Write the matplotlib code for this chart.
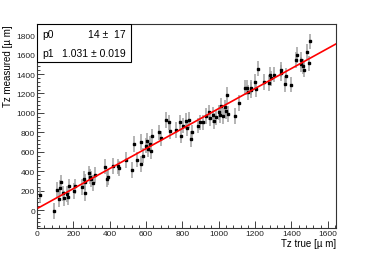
import numpy as np
import matplotlib
matplotlib.use("Agg")
import matplotlib.pyplot as plt
from matplotlib.patches import Rectangle
from matplotlib.ticker import MultipleLocator

plt.rcParams['font.family'] = ['Liberation Sans', 'DejaVu Sans']

# points (Tz true, Tz measured), in um
tz_true = [18, 92, 112, 119, 125, 130, 143, 150, 167, 173, 176, 202, 211, 246,
           257, 262, 266, 285, 290, 295, 310, 318, 376, 386, 389, 417, 448, 452,
           488, 522,
           535, 549, 570, 573, 582, 601, 606, 610, 619, 628, 634, 671, 683, 711,
           726, 733, 766, 784, 794, 803, 818, 825, 836, 849, 852, 886, 899, 913,
           928, 946, 950, 968, 972, 983, 1001, 1009, 1014, 1023, 1033, 1038, 1045,
           1051, 1091, 1110, 1147, 1158, 1161, 1176, 1180, 1202, 1207, 1216, 1249,
           1275, 1282, 1290, 1304, 1341, 1345, 1367, 1372, 1400, 1424, 1428, 1452,
           1455, 1466, 1470, 1488, 1496, 1501]
tz_meas = [150, -12, 209, 113, 229, 285, 172, 120, 165, 130, 244, 195, 244, 237,
           319, 291, 172, 377, 343, 319, 278, 360, 446, 319, 336, 456, 449, 429,
           514, 410,
           679, 518, 473, 703, 559, 662, 713, 628, 679, 610, 758, 799, 737, 929,
           902, 816, 826, 902, 765, 868, 919, 840, 929, 730, 799, 868, 902, 902,
           970, 1005, 943, 977, 919, 953, 1005, 977, 1073, 970, 1056, 1022, 1183,
           990, 970, 1100, 1260, 1260, 1210, 1260, 1235, 1320, 1245, 1455, 1320,
           1310, 1390, 1355, 1395, 1445, 1410, 1300, 1380, 1290, 1545, 1595, 1545,
           1500, 1478, 1445, 1630, 1510, 1735]
tz_err = 80

# fit result
p0, p0_err = 14, 17
p1, p1_err = 1.031, 0.019

fig = plt.figure(figsize=(3.74, 2.55), dpi=100)
ax = fig.add_axes([37 / 374, 1 - 229 / 255, 299 / 374, 204 / 255])

ax.errorbar(tz_true, tz_meas, yerr=tz_err, fmt='s', color='black',
            ecolor='#a0a0a0', elinewidth=1.1, markersize=1.8, capsize=0, zorder=3)

xfit = np.array([8, 1645])
ax.plot(xfit, p0 + p1 * xfit, color='red', lw=1.2, zorder=4)

ax.set_xlim(0, 1645)
ax.set_ylim(-185, 1915)
ax.xaxis.set_major_locator(MultipleLocator(200))
ax.xaxis.set_minor_locator(MultipleLocator(40))
ax.yaxis.set_major_locator(MultipleLocator(200))
ax.yaxis.set_minor_locator(MultipleLocator(40))
ax.tick_params(which='both', direction='in', top=False, right=False,
               labelsize=6, colors='#222222', width=0.6)
ax.tick_params(which='major', length=5, pad=1.5)
ax.tick_params(which='minor', length=2.5)
for s in ax.spines.values():
    s.set_linewidth(0.8)
    s.set_color('#333333')

ax.set_xlabel('Tz true [µ m]', fontsize=7, loc='right', labelpad=1)
ax.set_ylabel('Tz measured [µ m]', fontsize=7, loc='top', labelpad=2)

# stats box
ax.add_patch(Rectangle((0, 0.814), 0.313, 0.186, transform=ax.transAxes,
                       facecolor='white', edgecolor='black', lw=0.8, zorder=5))
ax.text(0.017, 0.951, 'p0', transform=ax.transAxes, fontsize=7.5, va='center', zorder=6)
ax.text(0.298, 0.951, f'{p0} ±  {p0_err}', transform=ax.transAxes, fontsize=7.5,
        va='center', ha='right', zorder=6)
ax.text(0.017, 0.858, 'p1', transform=ax.transAxes, fontsize=7.5, va='center', zorder=6)
ax.text(0.298, 0.858, f'{p1:.3f} ± {p1_err:.3f}', transform=ax.transAxes, fontsize=7.5,
        va='center', ha='right', zorder=6)

fig.savefig('out.png', dpi=100)
